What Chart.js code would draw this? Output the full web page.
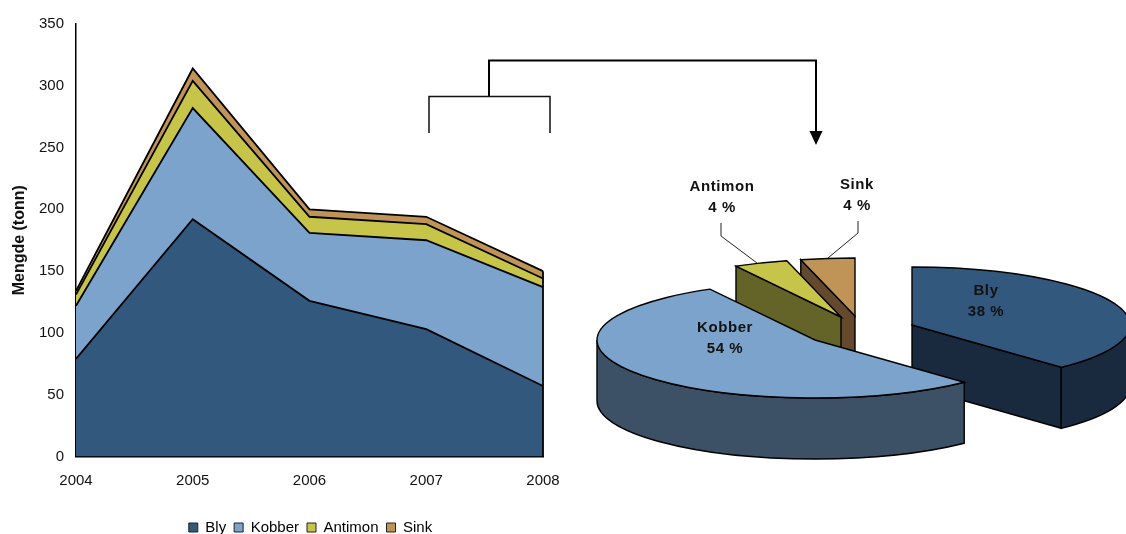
<!DOCTYPE html>
<html>
<head>
<meta charset="utf-8">
<script src="https://cdn.jsdelivr.net/npm/chart.js@4"></script>
<style>
  html, body { margin: 0; height: 534px; overflow: hidden; background: #fff; }
  canvas { position: absolute; left: 0; top: 0; }
</style>
</head>
<body>
<canvas id="areaChart" width="621" height="545"></canvas>
<canvas id="pieChart" width="1126" height="534"></canvas>
<script>
const years = ["2004", "2005", "2006", "2007", "2008"];
const bly = [79, 192, 126, 103, 57];
const kobber = [43, 90, 55, 72, 80];
const antimon = [9, 22, 13, 13, 7];
const sink = [3, 10, 6, 6, 6];

const metals = ["Bly", "Kobber", "Antimon", "Sink"];
const shares = [38, 54, 4, 4];

const topColors = ["#33587d", "#7ca3cb", "#c7c44a", "#c09456"];
const wallColors = ["#1a2a3e", "#3d5166", "#646428", "#64492c"];

const FONT = '"Liberation Sans", Arial, sans-serif';

Chart.defaults.animation = false;
Chart.defaults.font.family = FONT;
Chart.defaults.color = "#111";

// right edge of the stacked areas, closes the last polygon
const closeRightEdge = {
  id: "closeRightEdge",
  afterDatasetsDraw(chart) {
    const { ctx, scales } = chart;
    const last = years.length - 1;
    const x = scales.x.getPixelForValue(last);
    const top = bly[last] + kobber[last] + antimon[last] + sink[last];
    ctx.save();
    ctx.strokeStyle = "#000";
    ctx.lineWidth = 1.8;
    ctx.beginPath();
    ctx.moveTo(x, scales.y.getPixelForValue(top));
    ctx.lineTo(x, scales.y.getPixelForValue(0));
    ctx.stroke();
    ctx.restore();
  },
};

new Chart(document.getElementById("areaChart"), {
  type: "line",
  plugins: [closeRightEdge],
  data: {
    labels: years,
    datasets: [bly, kobber, antimon, sink].map((values, i) => ({
      label: metals[i],
      data: values,
      backgroundColor: topColors[i],
      borderColor: "#000",
      borderWidth: 1.8,
      pointRadius: 0,
      tension: 0,
      fill: i === 0 ? "origin" : "-1",
    })),
  },
  options: {
    responsive: false,
    layout: { padding: { top: 24, right: 0, bottom: 0, left: 0 } },
    scales: {
      x: {
        z: 1,
        offset: false,
        grid: { display: false, drawTicks: true, tickLength: 5, tickColor: "#000" },
        border: { color: "#000", width: 1.5 },
        ticks: { font: { size: 15 }, padding: 10, maxRotation: 0, color: "#111" },
        afterFit: (scale) => { scale.height = 55.5; },
      },
      y: {
        z: 1,
        stacked: true,
        min: 0,
        max: 350,
        grid: { display: false, drawTicks: true, tickLength: 5, tickColor: "#000" },
        border: { color: "#000", width: 1.5 },
        ticks: { stepSize: 50, font: { size: 15 }, padding: 7, color: "#111" },
        title: {
          display: true,
          text: "Mengde (tonn)",
          font: { size: 16, weight: "bold" },
          padding: { top: 10, bottom: 0 },
          color: "#111",
        },
        afterFit: (scale) => { scale.width = 76; },
      },
      // empty axis, keeps room on the right so the legend centres on the whole canvas
      spacer: {
        position: "right",
        grid: { display: false },
        border: { display: false },
        ticks: { display: false },
        afterFit: (scale) => { scale.width = 78; },
      },
    },
    plugins: {
      tooltip: { enabled: false },
      legend: {
        position: "bottom",
        labels: {
          boxWidth: 9,
          boxHeight: 9,
          padding: 8,
          font: { size: 15 },
          color: "#111",
          generateLabels: () =>
            metals.map((name, i) => ({
              text: name,
              fillStyle: topColors[i],
              strokeStyle: "#222",
              lineWidth: 1,
              datasetIndex: i,
            })),
        },
      },
    },
  },
});

// the pie is tilted: slice tops become ellipses of this flattening
const FLATTEN = 58 / 218;
const DEPTH = 61;
// where each slice sits after being pulled out of the pie
const sliceShift = [
  { x: 69, y: 58 },
  { x: -28, y: 73 },
  { x: -2, y: 50 },
  { x: 12, y: 49 },
];
const drawOrder = [0, 3, 2, 1];

const labelSpots = [
  { x: 986, y: 291 },
  { x: 725, y: 328 },
  { x: 722, y: 187 },
  { x: 857, y: 185 },
];
const leaders = [
  null,
  null,
  [[721, 223], [721, 236], [757, 263]],
  [[858, 221], [858, 233], [828, 258]],
];

function strokeLine(ctx, points, width, color) {
  ctx.strokeStyle = color;
  ctx.lineWidth = width;
  ctx.beginPath();
  points.forEach(([x, y], i) => (i ? ctx.lineTo(x, y) : ctx.moveTo(x, y)));
  ctx.stroke();
}

function drawSlice(ctx, arc, i) {
  const cx = arc.x + sliceShift[i].x;
  const cy = arc.y + sliceShift[i].y;
  const a = arc.outerRadius;
  const b = a * FLATTEN;
  const start = arc.startAngle;
  const end = arc.endAngle;
  const rim = (t) => [cx + a * Math.cos(t), cy + b * Math.sin(t)];

  ctx.fillStyle = wallColors[i];
  ctx.strokeStyle = "#000";
  ctx.lineWidth = 1.4;

  // flat cut faces that turn towards the viewer
  [[start, Math.cos(start) < -1e-6], [end, Math.cos(end) > 1e-6]].forEach(([t, visible]) => {
    if (!visible) return;
    const [rx, ry] = rim(t);
    ctx.beginPath();
    ctx.moveTo(cx, cy);
    ctx.lineTo(rx, ry);
    ctx.lineTo(rx, ry + DEPTH);
    ctx.lineTo(cx, cy + DEPTH);
    ctx.closePath();
    ctx.fill();
    ctx.stroke();
  });

  // curved outer wall, only the front half of the rim shows
  for (const turn of [0, 2 * Math.PI]) {
    const from = Math.max(start, turn);
    const to = Math.min(end, turn + Math.PI);
    if (to <= from) continue;
    ctx.beginPath();
    ctx.ellipse(cx, cy, a, b, 0, from, to);
    ctx.ellipse(cx, cy + DEPTH, a, b, 0, to, from, true);
    ctx.closePath();
    ctx.fill();
    ctx.stroke();
  }

  ctx.fillStyle = arc.options.backgroundColor;
  ctx.beginPath();
  ctx.moveTo(cx, cy);
  ctx.ellipse(cx, cy, a, b, 0, start, end);
  ctx.closePath();
  ctx.fill();
  ctx.stroke();
}

const tiltedPie = {
  id: "tiltedPie",
  beforeDatasetDraw(chart) {
    const { ctx } = chart;
    const arcs = chart.getDatasetMeta(0).data;
    ctx.save();
    drawOrder.forEach((i) => drawSlice(ctx, arcs[i], i));
    ctx.restore();
    return false;
  },
  afterDraw(chart) {
    const { ctx } = chart;
    ctx.save();

    // bracket from the last two years over to the pie
    strokeLine(ctx, [[429, 133], [429, 96.5], [550, 96.5], [550, 133]], 1.5, "#111");
    strokeLine(ctx, [[489, 96], [489, 60.5], [816, 60.5], [816, 133]], 2, "#000");
    ctx.fillStyle = "#000";
    ctx.beginPath();
    ctx.moveTo(809.5, 131);
    ctx.lineTo(822.5, 131);
    ctx.lineTo(816, 145);
    ctx.closePath();
    ctx.fill();

    leaders.forEach((points) => points && strokeLine(ctx, points, 1, "#222"));

    ctx.font = `bold 15px ${FONT}`;
    ctx.letterSpacing = "0.6px";
    ctx.fillStyle = "#111";
    ctx.textAlign = "center";
    ctx.textBaseline = "middle";
    metals.forEach((name, i) => {
      const { x, y } = labelSpots[i];
      ctx.fillText(name, x, y);
      ctx.fillText(`${shares[i]} %`, x, y + 21);
    });
    ctx.restore();
  },
};

new Chart(document.getElementById("pieChart"), {
  type: "pie",
  plugins: [tiltedPie],
  data: {
    labels: metals,
    datasets: [
      {
        data: shares,
        backgroundColor: topColors,
        radius: 218,
      },
    ],
  },
  options: {
    responsive: false,
    layout: { padding: { left: 560 } },
    plugins: {
      legend: { display: false },
      tooltip: { enabled: false },
    },
  },
});
</script>
</body>
</html>
